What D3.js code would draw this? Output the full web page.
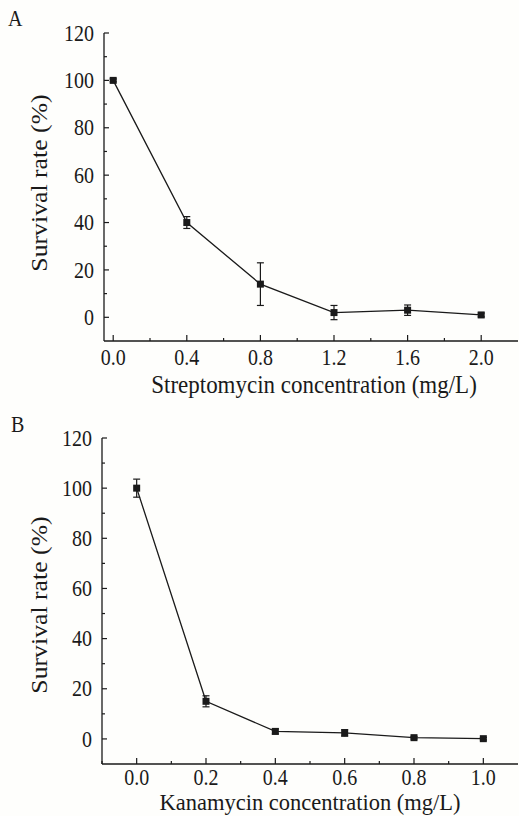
<!DOCTYPE html>
<html>
<head>
<meta charset="utf-8">
<script src="https://cdn.jsdelivr.net/npm/d3@7"></script>
<style>
html,body{margin:0;padding:0;background:#fefefc;}
svg{display:block;}
text{font-family:"Liberation Serif","Times New Roman",serif;fill:#1a1a1a;}
</style>
</head>
<body>
<svg id="chart" width="519" height="816"></svg>
<script>
// Panel A: streptomycin
const strepConc = [0.0, 0.4, 0.8, 1.2, 1.6, 2.0];
const strepSurvival = [100, 40, 14, 2, 3, 1];
const strepError = [0.6, 2.5, 9, 3, 2.2, 0.8];
const strepTicks = [0.0, 0.4, 0.8, 1.2, 1.6, 2.0];

// Panel B: kanamycin
const kanaConc = [0.0, 0.2, 0.4, 0.6, 0.8, 1.0];
const kanaSurvival = [100, 15, 3, 2.4, 0.5, 0.1];
const kanaError = [3.6, 2.2, 1, 1.3, 0.5, 0.5];
const kanaTicks = [0.0, 0.2, 0.4, 0.6, 0.8, 1.0];

const yTicks = [0, 20, 40, 60, 80, 100, 120];

const svg = d3.select("#chart");
const ink = "#1a1a1a";
const VS = 1.12; // vertical stretch of glyphs in the reference

function panel(cfg) {
  const g = svg.append("g");
  const x = d3.scaleLinear().domain(cfg.xDomain).range(cfg.xRange);
  const y = d3.scaleLinear().domain([-10, 120]).range(cfg.yRange);

  // axes lines
  g.append("line").attr("x1", cfg.xRange[0]).attr("x2", cfg.xRange[0])
    .attr("y1", cfg.yRange[0]).attr("y2", cfg.yRange[1])
    .attr("stroke", ink).attr("stroke-width", 1.3);
  g.append("line").attr("x1", cfg.xRange[0]).attr("x2", cfg.xRange[1])
    .attr("y1", cfg.yRange[0]).attr("y2", cfg.yRange[0])
    .attr("stroke", ink).attr("stroke-width", 1.3);

  // y ticks (major + minor), inward
  const yMinor = d3.range(-10, 121, 10).filter(v => v % 20 !== 0 && v > -10);
  g.selectAll(".ymaj").data(yTicks).join("line")
    .attr("x1", cfg.xRange[0]).attr("x2", cfg.xRange[0] + 5)
    .attr("y1", d => y(d)).attr("y2", d => y(d))
    .attr("stroke", ink).attr("stroke-width", 1.2);
  g.selectAll(".ymin").data(yMinor).join("line")
    .attr("x1", cfg.xRange[0]).attr("x2", cfg.xRange[0] + 3)
    .attr("y1", d => y(d)).attr("y2", d => y(d))
    .attr("stroke", ink).attr("stroke-width", 1.2);
  g.selectAll(".ylab").data(yTicks).join("text")
    .attr("transform", d => `translate(${cfg.xRange[0] - 10},${y(d)}) scale(1,${VS})`)
    .attr("dy", "0.34em").attr("text-anchor", "end")
    .attr("font-size", 20).text(d => d);

  // x ticks
  g.selectAll(".xmaj").data(cfg.xTicks).join("line")
    .attr("x1", d => x(d)).attr("x2", d => x(d))
    .attr("y1", cfg.yRange[0]).attr("y2", cfg.yRange[0] - 6)
    .attr("stroke", ink).attr("stroke-width", 1.2);
  g.selectAll(".xmin").data(cfg.xMinor).join("line")
    .attr("x1", d => x(d)).attr("x2", d => x(d))
    .attr("y1", cfg.yRange[0]).attr("y2", cfg.yRange[0] - 3)
    .attr("stroke", ink).attr("stroke-width", 1.2);
  g.selectAll(".xlab").data(cfg.xTicks).join("text")
    .attr("transform", d => `translate(${x(d)},${cfg.xLabelY}) scale(1,${VS})`)
    .attr("text-anchor", "middle").attr("font-size", 20)
    .text(d => d3.format(".1f")(d));

  // titles
  g.append("text")
    .attr("transform", `translate(${cfg.xTitleX},${cfg.xTitleY}) scale(1,${cfg.xTitleVS})`)
    .attr("text-anchor", "middle").attr("font-size", cfg.xTitleSize).text(cfg.xTitle);
  g.append("text")
    .attr("transform", `translate(${cfg.yTitleX},${cfg.yTitleY}) rotate(-90) scale(${VS},1)`)
    .attr("text-anchor", "middle").attr("font-size", 23).text("Survival rate (%)");
  g.append("text")
    .attr("transform", `translate(${cfg.letterX},${cfg.letterY}) scale(1,${VS})`)
    .attr("font-size", 20).text(cfg.letter);

  const pts = cfg.xs.map((v, i) => ({x: v, y: cfg.ys[i], e: cfg.es[i]}));

  // connecting line
  g.append("path").datum(pts)
    .attr("d", d3.line().x(d => x(d.x)).y(d => y(d.y)))
    .attr("fill", "none").attr("stroke", ink).attr("stroke-width", 1.3);

  // error bars
  const eb = g.selectAll(".eb").data(pts).join("g");
  eb.append("line").attr("x1", d => x(d.x)).attr("x2", d => x(d.x))
    .attr("y1", d => y(d.y - d.e)).attr("y2", d => y(d.y + d.e))
    .attr("stroke", ink).attr("stroke-width", 1.2);
  eb.append("line").attr("x1", d => x(d.x) - 3.5).attr("x2", d => x(d.x) + 3.5)
    .attr("y1", d => y(d.y + d.e)).attr("y2", d => y(d.y + d.e))
    .attr("stroke", ink).attr("stroke-width", 1.2);
  eb.append("line").attr("x1", d => x(d.x) - 3.5).attr("x2", d => x(d.x) + 3.5)
    .attr("y1", d => y(d.y - d.e)).attr("y2", d => y(d.y - d.e))
    .attr("stroke", ink).attr("stroke-width", 1.2);

  // markers
  g.selectAll(".mk").data(pts).join("rect")
    .attr("x", d => x(d.x) - 3.5).attr("y", d => y(d.y) - 3.5)
    .attr("width", 7).attr("height", 7).attr("fill", ink);
}

panel({
  xs: strepConc, ys: strepSurvival, es: strepError,
  xTicks: strepTicks, xMinor: [0.2, 0.6, 1.0, 1.4, 1.8],
  xDomain: [-0.05, 2.2], xRange: [104, 518], yRange: [341, 33],
  xLabelY: 365, xTitle: "Streptomycin concentration (mg/L)", xTitleVS: VS, xTitleSize: 23,
  xTitleX: 314, xTitleY: 393, yTitleX: 47, yTitleY: 183,
  letter: "A", letterX: 8, letterY: 26
});

panel({
  xs: kanaConc, ys: kanaSurvival, es: kanaError,
  xTicks: kanaTicks, xMinor: [-0.1, 0.1, 0.3, 0.5, 0.7, 0.9],
  xDomain: [-0.1, 1.1], xRange: [102, 518], yRange: [764, 438],
  xLabelY: 785, xTitle: "Kanamycin concentration (mg/L)", xTitleVS: 1.0, xTitleSize: 22.5,
  xTitleX: 310, xTitleY: 810, yTitleX: 47, yTitleY: 605,
  letter: "B", letterX: 11, letterY: 432
});
</script>
</body>
</html>
